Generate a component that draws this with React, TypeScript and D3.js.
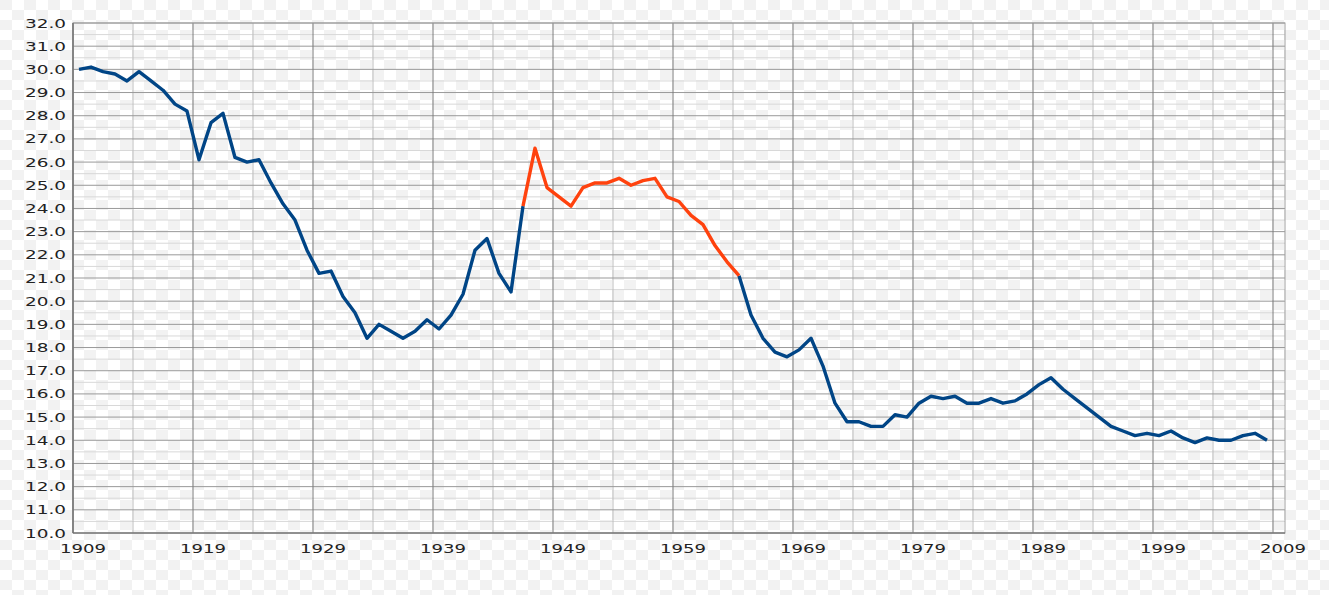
import React from "react";
import * as d3 from "d3";

const years: number[] = d3.range(1909, 2009);
const birthRate: number[] = [
  30.0, 30.1, 29.9, 29.8, 29.5, 29.9, 29.5, 29.1, 28.5, 28.2,
  26.1, 27.7, 28.1, 26.2, 26.0, 26.1, 25.1, 24.2, 23.5, 22.2,
  21.2, 21.3, 20.2, 19.5, 18.4, 19.0, 18.7, 18.4, 18.7, 19.2,
  18.8, 19.4, 20.3, 22.2, 22.7, 21.2, 20.4, 24.1, 26.6, 24.9,
  24.5, 24.1, 24.9, 25.1, 25.1, 25.3, 25.0, 25.2, 25.3, 24.5,
  24.3, 23.7, 23.3, 22.4, 21.7, 21.1, 19.4, 18.4, 17.8, 17.6,
  17.9, 18.4, 17.2, 15.6, 14.8, 14.8, 14.6, 14.6, 15.1, 15.0,
  15.6, 15.9, 15.8, 15.9, 15.6, 15.6, 15.8, 15.6, 15.7, 16.0,
  16.4, 16.7, 16.2, 15.8, 15.4, 15.0, 14.6, 14.4, 14.2, 14.3,
  14.2, 14.4, 14.1, 13.9, 14.1, 14.0, 14.0, 14.2, 14.3, 14.0,
];
const boomStart = 1946;
const boomEnd = 1964;
const xTickYears: number[] = d3.range(1909, 2010, 10);
const xMinorYears: number[] = d3.range(1914, 2009, 10);
const yTicks: number[] = d3.range(10, 33, 1);
const yMinor: number[] = d3.range(10.5, 32, 1);

type Pt = { year: number; v: number };
const data: Pt[] = years.map((y, i) => ({ year: y, v: birthRate[i] }));

export default function App() {
  const W = 1329, H = 595;
  const left = 73, right = 1285, top = 23, bottom = 533;
  const x = d3.scaleLinear().domain([1909, 2010]).range([left, right]);
  const y = d3.scaleLinear().domain([10, 32]).range([bottom, top]);
  const line = d3
    .line<Pt>()
    .x((d) => x(d.year + 0.5))
    .y((d) => y(d.v));
  const seg1 = data.filter((d) => d.year <= boomStart);
  const seg2 = data.filter((d) => d.year >= boomStart && d.year <= boomEnd);
  const seg3 = data.filter((d) => d.year >= boomEnd);
  const font = "'DejaVu Sans', sans-serif";
  return (
    <svg
      width={W}
      height={H}
      style={{ position: "absolute", left: 0, top: 0 }}
    >
      <defs>
        <pattern id="checker" width={24} height={20} patternUnits="userSpaceOnUse">
          <rect width={24} height={20} fill="#ffffff" />
          <rect x={0} y={0} width={12} height={10} fill="#f2f2f2" />
          <rect x={12} y={10} width={12} height={10} fill="#f2f2f2" />
        </pattern>
      </defs>
      <rect width={W} height={H} fill="url(#checker)" />
      {yMinor.map((t) => (
        <line key={"ym" + t} x1={left} x2={right} y1={y(t)} y2={y(t)} stroke="#d8d8d8" strokeWidth={1} />
      ))}
      {xMinorYears.map((t) => (
        <line key={"xm" + t} x1={x(t)} x2={x(t)} y1={top} y2={bottom} stroke="#bdbdbd" strokeWidth={1} />
      ))}
      {yTicks.map((t) => (
        <line key={"yM" + t} x1={left} x2={right} y1={y(t)} y2={y(t)} stroke="#999999" strokeWidth={1} />
      ))}
      {xTickYears.map((t) => (
        <line key={"xM" + t} x1={x(t)} x2={x(t)} y1={top} y2={bottom} stroke="#7a7a7a" strokeWidth={1} />
      ))}
      <rect x={left} y={top} width={right - left} height={bottom - top} fill="none" stroke="#a0a0a0" strokeWidth={1} />
      <line x1={left} x2={left} y1={top} y2={bottom} stroke="#6a6a6a" strokeWidth={1.2} />
      <line x1={left} x2={right} y1={bottom} y2={bottom} stroke="#6a6a6a" strokeWidth={1.2} />
      <path d={line(seg1) || ""} fill="none" stroke="#004586" strokeWidth={3.4} strokeLinejoin="round" />
      <path d={line(seg3) || ""} fill="none" stroke="#004586" strokeWidth={3.4} strokeLinejoin="round" />
      <path d={line(seg2) || ""} fill="none" stroke="#ff420e" strokeWidth={3.4} strokeLinejoin="round" />
      {yTicks.map((t) => (
        <text
          key={"yl" + t}
          x={66}
          y={y(t)}
          textAnchor="end"
          dominantBaseline="central"
          fontFamily={font}
          fontSize={13}
          fill="#222"
          textLength={41}
          lengthAdjust="spacingAndGlyphs"
        >
          {t.toFixed(1)}
        </text>
      ))}
      {xTickYears.map((t) => (
        <text
          key={"xl" + t}
          x={x(t) + 10}
          y={553}
          textAnchor="middle"
          fontFamily={font}
          fontSize={13}
          fill="#222"
          textLength={46}
          lengthAdjust="spacingAndGlyphs"
        >
          {String(t)}
        </text>
      ))}
    </svg>
  );
}
